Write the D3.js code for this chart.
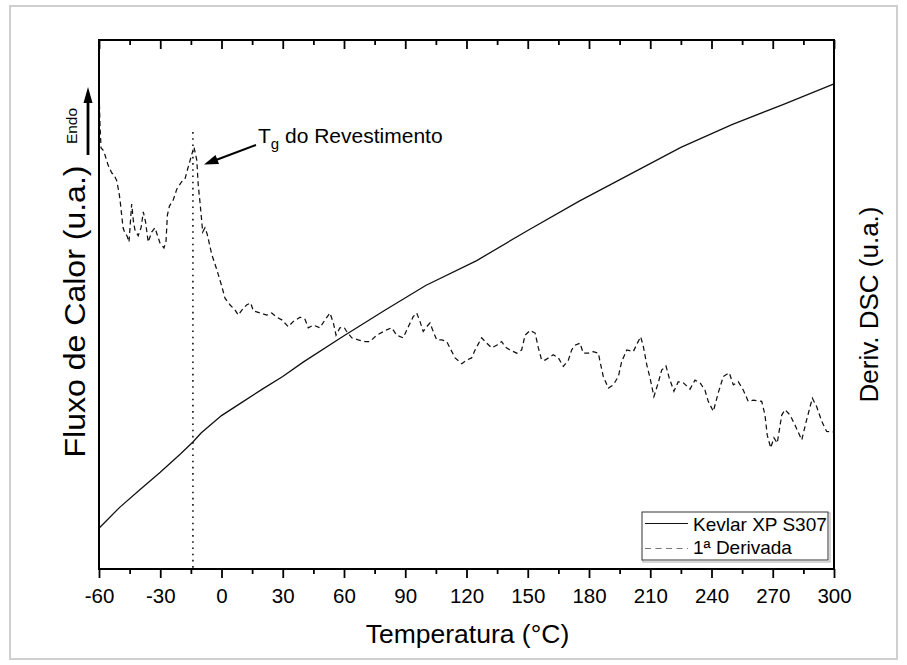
<!DOCTYPE html>
<html>
<head>
<meta charset="utf-8">
<script src="https://cdn.jsdelivr.net/npm/d3@7"></script>
<style>
  body { margin: 0; background: #fff; }
  svg { display: block; }
  text { font-family: "Liberation Sans", Arial, sans-serif; fill: #000; }
</style>
</head>
<body>
<svg id="chart" width="907" height="665"></svg>
<script>
// Temperature axis ticks (°C)
const majorTicks = [-60, -30, 0, 30, 60, 90, 120, 150, 180, 210, 240, 270, 300];
const minorTicks = [-45, -15, 15, 45, 75, 105, 135, 165, 195, 225, 255, 285];

// DSC heat flow curve, Kevlar XP S307 (arbitrary units)
const kevlarT  = [-60, -50, -40, -30, -20, -14, -10, 0, 10, 20, 30, 40, 60, 80, 100, 125, 150, 175, 200, 225, 250, 275, 300];
const kevlarHF = [7.7, 11.6, 15.0, 18.3, 21.8, 24.0, 25.7, 29.0, 31.5, 34.0, 36.4, 39.1, 44.1, 48.9, 53.6, 58.3, 64.0, 69.5, 74.6, 79.7, 84.0, 87.8, 91.7];

// First derivative of the DSC signal (arbitrary units)
const derivT = [
  -59.8, -59.5, -59.0, -58.0, -57.1, -55.6, -53.8, -52.7, -51.4, -50.4,
  -49.7, -48.9, -48.2, -47.3, -46.3, -45.3, -44.0, -43.1, -42.4, -40.8,
  -39.4, -38.3, -37.2, -35.9, -34.2, -32.6, -31.3, -30.1, -28.2, -27.2,
  -26.5, -25.5, -23.6, -21.9, -19.5, -17.9, -16.3, -14.9, -13.5, -12.1,
  -11.4, -10.5, -9.2, -8.1, -7.0, -4.8, -2.4, 0.1, 1.7, 4.2,
  6.6, 8.2, 10.7, 12.3, 14.3, 15.6, 18.9, 22.1, 24.6, 27.0,
  29.5, 32.7, 35.2, 38.5, 40.9, 42.5, 45.0, 48.2, 50.7, 53.1,
  54.8, 56.1, 58.0, 60.0, 61.3, 63.8, 67.0, 70.3, 72.7, 76.0,
  80.9, 83.4, 85.8, 89.0, 91.5, 93.9, 95.6, 97.2, 98.8, 100.5,
  102.1, 103.7, 105.4, 107.9, 110.3, 111.9, 114.4, 117.7, 120.1, 122.5,
  124.2, 127.4, 129.9, 132.3, 134.8, 137.2, 138.9, 141.3, 144.6, 147.0,
  148.7, 151.1, 153.6, 155.2, 156.8, 158.5, 162.5, 165.0, 167.4, 169.9,
  171.5, 173.1, 175.6, 177.2, 179.7, 182.1, 184.6, 185.4, 187.0, 189.5,
  191.9, 194.4, 196.0, 198.5, 201.7, 203.7, 205.3, 206.6, 208.3, 209.9,
  211.8, 213.9, 215.6, 217.7, 219.3, 221.6, 223.7, 226.2, 229.5, 231.9,
  234.4, 236.8, 238.4, 240.9, 243.3, 245.8, 248.7, 250.7, 253.1, 255.6,
  258.0, 260.5, 264.6, 266.2, 267.3, 269.0, 270.6, 272.2, 274.4, 276.0,
  278.5, 280.9, 284.2, 286.6, 289.4, 291.5, 294.0, 296.4, 300.0
];
const derivV = [
  87.9, 83.9, 79.6, 79.2, 78.3, 76.4, 74.9, 74.5, 73.5, 71.6,
  69.8, 66.9, 64.5, 63.5, 63.0, 61.8, 69.0, 65.6, 64.1, 63.0,
  64.5, 67.5, 65.6, 61.8, 63.7, 64.5, 63.0, 61.6, 60.7, 61.8,
  66.9, 68.6, 69.8, 71.8, 73.2, 73.7, 76.0, 77.9, 79.8, 77.3,
  72.6, 69.2, 63.7, 64.5, 63.3, 59.5, 56.7, 53.5, 51.2, 49.9,
  49.0, 48.0, 49.3, 49.9, 50.3, 48.8, 48.4, 48.0, 48.4, 47.6,
  47.1, 45.8, 46.8, 47.6, 47.2, 45.6, 46.1, 45.6, 47.1, 48.4,
  46.5, 44.2, 45.6, 45.7, 44.9, 43.7, 43.3, 43.0, 43.0, 44.2,
  45.2, 45.6, 44.2, 43.7, 45.8, 47.7, 48.4, 46.8, 44.9, 45.8,
  46.5, 44.9, 43.3, 43.3, 43.0, 41.8, 39.9, 38.8, 39.5, 39.9,
  41.4, 43.7, 42.7, 41.8, 42.3, 43.0, 42.0, 41.4, 40.8, 41.4,
  44.2, 45.1, 44.6, 41.8, 39.5, 39.5, 40.5, 39.9, 38.3, 39.5,
  41.4, 42.3, 42.7, 40.8, 40.8, 41.1, 40.8, 39.2, 36.4, 34.2,
  34.8, 36.4, 39.2, 41.4, 41.1, 42.7, 43.9, 42.1, 38.6, 36.1,
  32.6, 35.2, 37.6, 38.4, 36.1, 33.6, 35.4, 35.2, 34.0, 35.7,
  35.2, 33.8, 31.7, 29.8, 33.3, 36.4, 37.1, 34.8, 35.4, 33.8,
  31.7, 31.9, 31.7, 29.1, 25.3, 22.9, 24.8, 23.8, 29.1, 30.1,
  29.1, 27.2, 24.4, 28.2, 32.3, 30.7, 27.9, 26.0, 25.9
];

// Glass transition of the coating (°C) and top of its marker line (derivative units)
const tgTemp = -14;
const tgMarkTop = 82.6;

const legendLabels = ["Kevlar XP S307", "1ª Derivada"];

const plot = { left: 99, right: 834, top: 40, bottom: 569 };
const FONT = '"Liberation Sans", Arial, sans-serif';

const svg = d3.select("#chart");

// outer frame of the figure
svg.append("rect")
  .attr("x", 10).attr("y", 6).attr("width", 887).attr("height", 653)
  .attr("fill", "#fff").attr("stroke", "#cfcfcf").attr("stroke-width", 2);

const x = d3.scaleLinear().domain([-60, 300]).range([plot.left, plot.right]);
const yHF = d3.scaleLinear().domain([0, 100]).range([plot.bottom, plot.top]);
const yD = d3.scaleLinear().domain([0, 100]).range([plot.bottom, plot.top]);

// data lines
const kevlar = kevlarT.map((t, i) => [t, kevlarHF[i]]);
const deriv = derivT.map((t, i) => [t, derivV[i]]);

svg.append("path")
  .datum(kevlar)
  .attr("fill", "none").attr("stroke", "#111").attr("stroke-width", 1.3)
  .attr("d", d3.line().x(d => x(d[0])).y(d => yHF(d[1])));

svg.append("path")
  .datum(deriv)
  .attr("fill", "none").attr("stroke", "#111").attr("stroke-width", 1.25)
  .attr("stroke-dasharray", "5,3.5")
  .attr("d", d3.line().x(d => x(d[0])).y(d => yD(d[1])));

// Tg marker
svg.append("line")
  .attr("x1", x(tgTemp)).attr("x2", x(tgTemp))
  .attr("y1", yD(tgMarkTop)).attr("y2", yD(0))
  .attr("stroke", "#111").attr("stroke-width", 1.6)
  .attr("stroke-dasharray", "1.6,4.6");

// axes
const gBottom = svg.append("g").attr("transform", `translate(0,${plot.bottom})`)
  .call(d3.axisBottom(x).tickValues(majorTicks).tickSize(9).tickPadding(10).tickFormat(d => String(d)));
svg.append("g").attr("transform", `translate(0,${plot.bottom})`)
  .call(d3.axisBottom(x).tickValues(minorTicks).tickSize(5).tickFormat(""));
svg.append("g").attr("transform", `translate(0,${plot.top})`)
  .call(d3.axisTop(x).tickValues(majorTicks).tickSize(-9).tickFormat(""));
svg.append("g").attr("transform", `translate(0,${plot.top})`)
  .call(d3.axisTop(x).tickValues(minorTicks).tickSize(-5).tickFormat(""));

svg.selectAll(".domain").remove();
svg.selectAll(".tick line").attr("stroke", "#000").attr("stroke-width", 1.8);
gBottom.selectAll(".tick text")
  .style("font-family", FONT)
  .style("font-size", "20.5px").attr("fill", "#000");

// plot frame
svg.append("rect")
  .attr("x", plot.left).attr("y", plot.top)
  .attr("width", plot.right - plot.left).attr("height", plot.bottom - plot.top)
  .attr("fill", "none").attr("stroke", "#000").attr("stroke-width", 2);

// axis titles
svg.append("text")
  .attr("x", (plot.left + plot.right) / 2 + 1).attr("y", 643)
  .attr("text-anchor", "middle").style("font-size", "26.5px")
  .text("Temperatura (°C)");

svg.append("text")
  .attr("transform", `translate(85,${(plot.top + plot.bottom) / 2 + 7}) rotate(-90)`)
  .attr("text-anchor", "middle").style("font-size", "29px")
  .attr("textLength", 292).attr("lengthAdjust", "spacingAndGlyphs")
  .text("Fluxo de Calor (u.a.)");

svg.append("text")
  .attr("transform", `translate(878,${(plot.top + plot.bottom) / 2}) rotate(-90)`)
  .attr("text-anchor", "middle").style("font-size", "26px")
  .text("Deriv. DSC (u.a.)");

// endothermic direction arrow
svg.append("line")
  .attr("x1", 88).attr("x2", 88).attr("y1", 155).attr("y2", 100)
  .attr("stroke", "#000").attr("stroke-width", 2.8);
svg.append("path")
  .attr("d", "M88,87 L92.5,103 L83.5,103 Z").attr("fill", "#000");
svg.append("text")
  .attr("transform", "translate(77,126) rotate(-90)")
  .attr("text-anchor", "middle").style("font-size", "15.5px")
  .text("Endo");

// Tg annotation
const tgLabel = svg.append("text").attr("x", 258).attr("y", 143).style("font-size", "21px");
tgLabel.append("tspan").text("T");
tgLabel.append("tspan").attr("dy", 6).style("font-size", "15px").text("g");
tgLabel.append("tspan").attr("dy", -6).text(" do Revestimento");

svg.append("line")
  .attr("x1", 256).attr("y1", 145).attr("x2", 216).attr("y2", 160)
  .attr("stroke", "#000").attr("stroke-width", 2);
svg.append("path")
  .attr("d", "M204,164.5 L215.5,155 L219,164 Z").attr("fill", "#000");

// legend
const lg = svg.append("g");
lg.append("rect").attr("x", 643).attr("y", 513).attr("width", 187).attr("height", 49)
  .attr("fill", "none").attr("stroke", "#c8c8c8").attr("stroke-width", 1.5);
lg.append("rect").attr("x", 642).attr("y", 512).attr("width", 186).attr("height", 48)
  .attr("fill", "#fff").attr("stroke", "#333").attr("stroke-width", 1);
lg.append("line").attr("x1", 645).attr("x2", 688).attr("y1", 523.5).attr("y2", 523.5)
  .attr("stroke", "#111").attr("stroke-width", 1.2);
lg.append("line").attr("x1", 645).attr("x2", 688).attr("y1", 548.5).attr("y2", 548.5)
  .attr("stroke", "#777").attr("stroke-width", 1.2).attr("stroke-dasharray", "6,4.5");
lg.selectAll("text.lbl").data(legendLabels).enter().append("text")
  .attr("class", "lbl")
  .attr("x", 693).attr("y", (d, i) => 530.5 + i * 23)
  .style("font-size", "19px")
  .text(d => d);
</script>
</body>
</html>
